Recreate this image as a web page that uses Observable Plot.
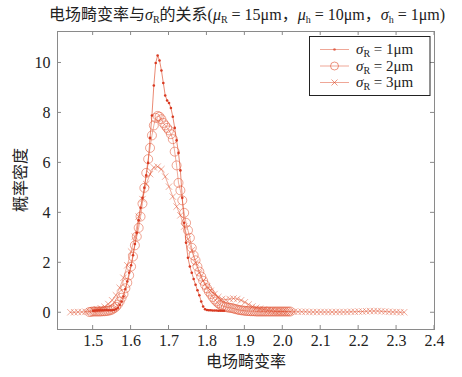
<!DOCTYPE html>
<html><head><meta charset="utf-8">
<script src="https://cdn.jsdelivr.net/npm/d3@7"></script>
<script src="https://cdn.jsdelivr.net/npm/@observablehq/plot@0.6"></script>
<style>body{margin:0;background:#fff}</style>
</head><body><div id="chart"></div>
<script>
// σR = 1μm
const s1x = [1.500,1.505,1.510,1.515,1.520,1.525,1.530,1.535,1.540,1.545,1.550,1.555,1.560,1.565,1.570,1.575,1.580,1.585,1.590,1.595,
1.600,1.605,1.610,1.615,1.620,1.625,1.630,1.635,1.640,1.645,1.650,1.655,1.660,1.665,1.670,1.675,1.680,1.685,1.690,1.695,
1.700,1.705,1.710,1.715,1.720,1.725,1.730,1.735,1.740,1.745,1.750,1.755,1.760,1.765,1.770,1.775,1.780,1.785,1.790,1.795,
1.800,1.805,1.810,1.815,1.820,1.825,1.830,1.835,1.840,1.845];
const s1y = [0.08,0.09,0.09,0.10,0.10,0.10,0.11,0.11,0.10,0.10,0.10,0.11,0.14,0.20,0.32,0.45,0.65,0.95,1.25,1.60,
1.90,2.30,2.75,3.20,3.70,4.20,4.60,5.00,5.50,6.00,7.00,7.90,9.10,10.00,10.30,10.10,9.70,9.20,8.70,8.50,
8.40,8.20,7.85,7.40,6.90,6.40,5.70,4.60,3.60,2.80,2.20,1.85,1.60,1.35,1.12,0.90,0.70,0.45,0.25,0.14,
0.11,0.10,0.10,0.09,0.09,0.09,0.08,0.08,0.08,0.08];
// σR = 2μm
const s2x = [1.490,1.495,1.500,1.505,1.510,1.515,1.520,1.525,1.530,1.535,1.540,1.545,1.550,1.555,1.560,1.565,1.570,1.575,1.580,1.585,
1.590,1.595,1.600,1.605,1.610,1.615,1.620,1.625,1.630,1.635,1.640,1.645,1.650,1.655,1.660,1.665,1.670,1.675,1.680,1.685,
1.690,1.695,1.700,1.705,1.710,1.715,1.720,1.725,1.730,1.735,1.740,1.745,1.750,1.755,1.760,1.765,1.770,1.775,1.780,1.785,
1.790,1.795,1.800,1.805,1.810,1.815,1.820,1.825,1.830,1.835,1.840,1.845,1.850,1.855,1.860,1.865,1.870,1.875,1.880,1.885,
1.890,1.895,1.900,1.905,1.910,1.915,1.920,1.925,1.930,1.935,1.940,1.945,1.950,1.955,1.960,1.965,1.970,1.975,1.980,1.985,
1.990,1.995,2.000,2.005,2.010,2.015,2.020];
const s2y = [0.03,0.04,0.05,0.05,0.05,0.05,0.05,0.06,0.06,0.07,0.08,0.10,0.13,0.18,0.24,0.33,0.45,0.60,0.75,0.98,
1.20,1.50,1.85,2.25,2.70,3.05,3.40,3.85,4.37,5.00,5.60,6.15,6.60,7.10,7.50,7.80,7.88,7.85,7.75,7.60,
7.50,7.40,7.30,7.15,6.95,6.45,5.90,5.20,4.90,4.50,4.00,3.60,3.30,3.00,2.60,2.30,2.10,1.85,1.65,1.45,
1.28,1.12,0.98,0.85,0.75,0.63,0.53,0.45,0.38,0.32,0.28,0.25,0.23,0.21,0.20,0.19,0.17,0.15,0.13,0.11,
0.10,0.09,0.08,0.07,0.07,0.06,0.06,0.06,0.05,0.05,0.05,0.05,0.05,0.05,0.05,0.05,0.05,0.05,0.05,0.05,
0.05,0.05,0.05,0.05,0.05,0.05,0.05];
// σR = 3μm
const s3x = [1.44,1.45,1.46,1.47,1.48,1.49,1.50,1.51,1.52,1.53,1.54,1.55,1.56,1.57,1.58,1.59,1.60,1.61,1.62,1.63,
1.64,1.65,1.66,1.67,1.68,1.69,1.70,1.71,1.72,1.73,1.74,1.75,1.76,1.77,1.78,1.79,1.80,1.81,1.82,1.83,
1.84,1.85,1.86,1.87,1.88,1.89,1.90,1.91,1.92,1.93,1.94,1.95,1.96,1.97,1.98,1.99,2.00,2.01,2.02,2.03,
2.04,2.05,2.06,2.07,2.08,2.09,2.10,2.11,2.12,2.13,2.14,2.15,2.16,2.17,2.18,2.19,2.20,2.21,2.22,2.23,
2.24,2.25,2.26,2.27,2.28,2.29,2.30,2.31,2.32];
const s3y = [0.02,0.02,0.03,0.03,0.04,0.06,0.10,0.14,0.18,0.24,0.35,0.50,0.70,1.00,1.40,1.90,2.45,3.05,3.85,4.55,
5.15,5.55,5.82,5.85,5.75,5.45,5.05,4.65,4.25,3.90,3.45,2.95,2.50,2.00,1.60,1.28,1.05,0.88,0.75,0.63,
0.55,0.52,0.55,0.57,0.55,0.50,0.42,0.33,0.25,0.20,0.16,0.13,0.10,0.08,0.06,0.05,0.05,0.04,0.04,0.04,
0.04,0.04,0.04,0.03,0.03,0.03,0.03,0.03,0.03,0.03,0.03,0.03,0.03,0.03,0.04,0.04,0.05,0.05,0.06,0.07,
0.07,0.07,0.06,0.05,0.04,0.03,0.03,0.02,0.02];

const xTicks = [1.5,1.6,1.7,1.8,1.9,2.0,2.1,2.2,2.3,2.4];
const yTicks = [0,2,4,6,8,10];
const legendValues = ["1","2","3"];
const xLabel = "电场畸变率";
const yLabel = "概率密度";

const d1 = s1x.map((x,i)=>({x, y:s1y[i]}));
const d2 = s2x.map((x,i)=>({x, y:s2y[i]}));
const d3s = s3x.map((x,i)=>({x, y:s3y[i]}));

const FONT = '"Liberation Serif","Noto Sans CJK SC",serif';
const C = "#e0502f";

const plot = Plot.plot({
  width: 462, height: 377,
  marginTop: 31, marginLeft: 57, marginRight: 28, marginBottom: 48,
  style: {fontFamily: FONT, fontSize: "16px", background: "#fff", color: "#222"},
  x: {domain: [1.406, 2.4], ticks: xTicks, tickFormat: d => d.toFixed(1), tickSize: 0, tickPadding: 5, label: null},
  y: {domain: [-0.67, 11.26], ticks: yTicks, tickSize: 0, tickPadding: 7, label: null},
  marks: [
    Plot.line(d3s, {x: "x", y: "y", stroke: C, strokeWidth: 0.8, strokeOpacity: 0.6}),
    Plot.dot(d3s, {x: "x", y: "y", symbol: "times", r: 3, stroke: C, strokeWidth: 0.8, strokeOpacity: 0.6}),
    Plot.line(d2, {x: "x", y: "y", stroke: C, strokeWidth: 0.8, strokeOpacity: 0.6}),
    Plot.dot(d2, {x: "x", y: "y", symbol: "circle", r: 4.5, stroke: C, fill: "none", strokeWidth: 0.8, strokeOpacity: 0.65}),
    Plot.line(d1, {x: "x", y: "y", stroke: C, strokeWidth: 0.9, strokeOpacity: 0.75}),
    Plot.dot(d1, {x: "x", y: "y", r: 1.3, fill: "#d83a22", stroke: "none"}),
    Plot.frame({stroke: "#8a8a8a"})
  ]
});

const svg = d3.select(plot);
const sx = plot.scale("x"), sy = plot.scale("y");
const L = 57, R = 462 - 28, T = 31, B = 377 - 48;
const tk = svg.append("g").attr("stroke", "#8a8a8a").attr("stroke-width", 1);
for (const v of xTicks) {
  const px = sx.apply(v);
  tk.append("line").attr("x1", px).attr("x2", px).attr("y1", B).attr("y2", B - 4);
  tk.append("line").attr("x1", px).attr("x2", px).attr("y1", T).attr("y2", T + 4);
}
for (const v of yTicks) {
  const py = sy.apply(v);
  tk.append("line").attr("x1", L).attr("x2", L + 4).attr("y1", py).attr("y2", py);
  tk.append("line").attr("x1", R).attr("x2", R - 4).attr("y1", py).attr("y2", py);
}

// axis labels
svg.append("text").attr("x", 246).attr("y", 367).attr("text-anchor", "middle")
  .style("font-size", "16px").attr("fill", "#222").text(xLabel);
svg.append("text").attr("transform", "translate(26,180) rotate(-90)").attr("text-anchor", "middle")
  .style("font-size", "16px").attr("fill", "#222").text(yLabel);

// rich text: segments [text, kind] kind: "" normal, "i" italic, "s" subscript
function rich(t, segs) {
  let prevSub = false;
  for (const [s, k] of segs) {
    const ts = t.append("tspan").text(s);
    if (k === "i") ts.style("font-style", "italic");
    if (k === "s") { ts.style("font-size", "10px"); if (!prevSub) ts.attr("dy", 3); }
    else if (prevSub) ts.attr("dy", -3);
    prevSub = k === "s";
  }
}

// title
const title = svg.append("text").attr("x", 247).attr("y", 20).attr("text-anchor", "middle")
  .style("font-size", "16px").attr("fill", "#222");
rich(title, [["电场畸变率与",""],["σ","i"],["R","s"],["的关系(",""],["μ","i"],["R","s"],[" = 15μm，",""],
  ["μ","i"],["h","s"],[" = 10μm，",""],["σ","i"],["h","s"],[" = 1μm)",""]]);

// legend
const lg = svg.append("g");
lg.append("rect").attr("x", 309.5).attr("y", 36.5).attr("width", 120.5).attr("height", 59)
  .attr("fill", "#fff").attr("stroke", "#222").attr("stroke-width", 1);
const rows = [49.5, 66, 82.5];
legendValues.forEach((v, i) => {
  const y = rows[i];
  lg.append("line").attr("x1", 320).attr("x2", 349).attr("y1", y).attr("y2", y)
    .attr("stroke", C).attr("stroke-opacity", 0.5).attr("stroke-width", 1);
  if (i === 0) lg.append("circle").attr("cx", 334.5).attr("cy", y).attr("r", 1.3).attr("fill", "#d83a22").attr("fill-opacity", 0.7);
  if (i === 1) lg.append("circle").attr("cx", 334.5).attr("cy", y).attr("r", 4).attr("fill", "none").attr("stroke", C).attr("stroke-opacity", 0.6);
  if (i === 2) lg.append("path").attr("d", `M${331.5},${y-3}L${337.5},${y+3}M${331.5},${y+3}L${337.5},${y-3}`).attr("stroke", C).attr("stroke-opacity", 0.6);
  const t = lg.append("text").attr("x", 356).attr("y", y + 4.5).attr("text-anchor", "start")
    .style("font-size", "15px").attr("fill", "#222");
  rich(t, [["σ","i"],["R","s"],[" = " + v + "μm",""]]);
});

document.getElementById("chart").appendChild(plot);
</script>
</body></html>
